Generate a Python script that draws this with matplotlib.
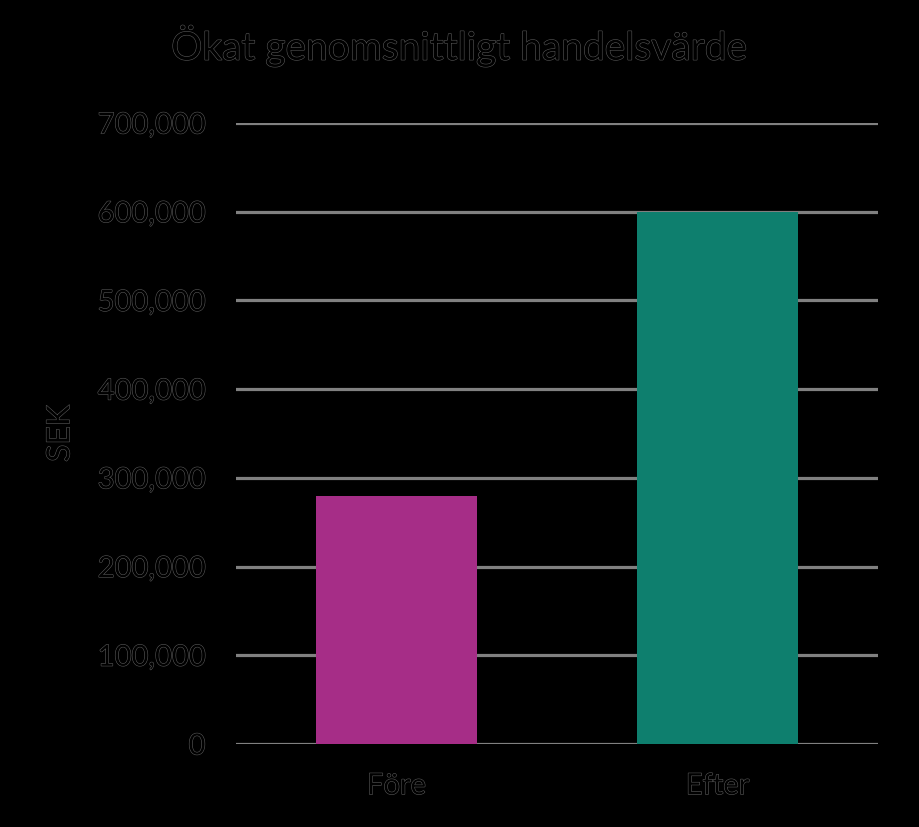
import matplotlib
matplotlib.use("Agg")
import matplotlib.pyplot as plt
import matplotlib.patheffects as pe
from matplotlib.ticker import FuncFormatter

categories = ["Före", "Efter"]
values = [280000, 600000]
bar_colors = ["#A62D87", "#0E7F6E"]
yticks = [0, 100000, 200000, 300000, 400000, 500000, 600000, 700000]

plt.rcParams['font.family'] = ['Lato', 'DejaVu Sans']

# dark text with a faint light edge, as in the reference
outline = [pe.withStroke(linewidth=0.8, foreground="#5a5a5a")]

fig = plt.figure(figsize=(9.19, 8.27), dpi=100, facecolor="black")
ax = fig.add_axes([0.2568, 0.1004, 0.6986, 0.7509], facecolor="black")

x = list(range(len(categories)))
ax.bar(x, values, width=0.5, color=bar_colors, zorder=3)

ax.set_xlim(-0.5, 1.5)
ax.set_ylim(0, 700000)
ax.set_yticks(yticks)
ax.yaxis.set_major_formatter(FuncFormatter(lambda v, p: f"{int(v):,}"))
ax.set_xticks(x)
ax.set_xticklabels(categories)

ax.grid(axis="y", color="#808080", linewidth=2.3, zorder=1)
ax.set_axisbelow(True)
for s in ax.spines.values():
    s.set_visible(False)
ax.tick_params(axis="both", length=0, labelsize=21, colors="black")
ax.tick_params(axis="y", pad=22)
ax.tick_params(axis="x", pad=21)
for lbl in ax.get_yticklabels() + ax.get_xticklabels():
    lbl.set_path_effects(outline)

ax.set_ylabel("SEK", fontsize=23, color="black", labelpad=16, path_effects=outline)
fig.suptitle("Ökat genomsnittligt handelsvärde", fontsize=28, color="black",
             y=0.97, path_effects=outline)

fig.savefig("out.png", dpi=100, facecolor="black")
